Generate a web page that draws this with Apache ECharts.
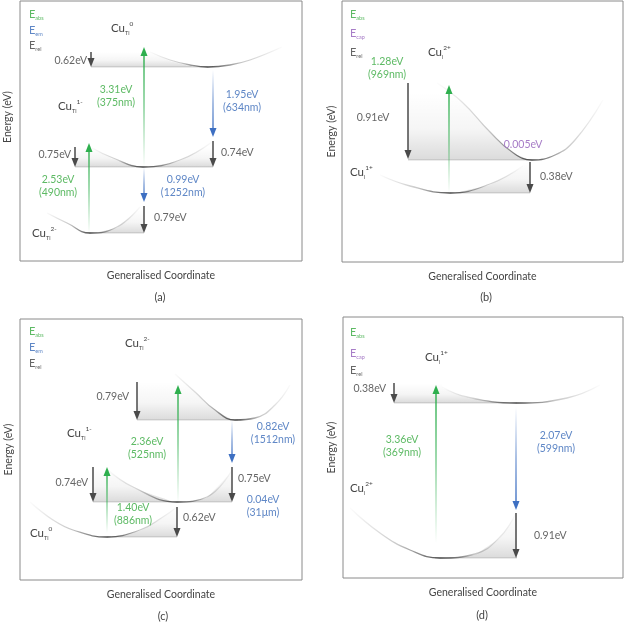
<!DOCTYPE html>
<html><head><meta charset="utf-8">
<script src="https://cdn.jsdelivr.net/npm/echarts@6/dist/echarts.min.js"></script>
<style>html,body{margin:0;padding:0;background:#fff}#c{width:625px;height:622px}</style>
</head><body><div id="c"></div>
<script>
// ---------- DATA (schematic units: x = generalised coordinate, y = energy) ----------
// Panel (a): Cu_Ti
const A_CURVE_0   = [[130,209],[150,201],[170,196],[188,194],[210,196],[230,201],[262,214]];
const A_CURVE_1M  = [[72,113],[93,103],[123,94],[160,101],[192,119]];
const A_CURVE_2M  = [[27,48],[47,38],[70,28],[97,34],[120,54]];
// bands: [x from, x to, level, shade top, index of curve that bounds it]
const A_BANDS     = [[71,188,194,209,0],[55,193,94,114,1],[69,124,28,52,2]];
const A_ABS       = [[124,94,214],[69,28,118]];
const A_EM        = [[193,191,124],[124,94,59]];
const A_REL       = [[71,209,194],[55,114,94],[193,120,94],[124,55,28]];
const A_TEXT      = [['3.31eV\n(375nm)',96,165,'abs','center'],['1.95eV\n(634nm)',222,160,'em','center'],
                     ['2.53eV\n(490nm)',38,75,'abs','center'],['0.99eV\n(1252nm)',163,75,'em','center'],
                     ['0.62eV',67,200,'rel','right'],['0.75eV',51,106,'rel','right'],
                     ['0.74eV',201,108,'rel','left'],['0.79eV',134,43,'rel','left']];
const A_STATES    = [[91,233,'Ti','0'],[38,155,'Ti','1-'],[12,28,'Ti','2-']];
const A_LEGEND    = [['abs',9,247],['em',9,231],['rel',9,216]];

// Panel (b): Cu_i
const B_CURVE_2P  = [[95,179],[120,160],[148,130],[170,110],[190,102],[213,107],[233,122],[261,162]];
const B_CURVE_1P  = [[38,87],[68,76],[108,69],[148,78],[181,96]];
const B_BANDS     = [[66,190,102,170,0],[108,188,69,100,1]];
const B_ABS       = [[107,69,177]];
const B_EM        = [];
const B_REL       = [[66,179,103],[188,100,69]];
const B_TEXT      = [['1.28eV\n(969nm)',45,194,'abs','center'],['0.91eV',31,144,'rel','center'],
                     ['0.005eV',181,117,'cap','center'],['0.38eV',198,85,'rel','left']];
const B_STATES    = [[86,210,'i','2+'],[8,90,'i','1+']];
const B_LEGEND    = [['abs',8,248],['cap',8,229],['rel',8,210]];

// Panel (c): Cu_Ti
const C_CURVE_2M  = [[155,206],[175,188],[195,170],[215,160],[235,162],[255,175],[270,195]];
const C_CURVE_1M  = [[88,110],[113,93],[157,78],[187,83],[212,110]];
const C_CURVE_0   = [[10,78],[33,60],[53,50],[87,43],[120,50],[143,63],[157,73]];
const C_BANDS     = [[117,218,160,198,0],[73,212,78,113,1],[87,157,43,73,2]];
const C_ABS       = [[158,77,195],[87,47,113]];
const C_EM        = [[212,160,117]];
const C_REL       = [[117,198,160],[73,113,78],[212,113,78],[157,73,43]];
const C_TEXT      = [['0.79eV',109,183,'rel','right'],['2.36eV\n(525nm)',127,132,'abs','center'],
                     ['0.82eV\n(1512nm)',253,147,'em','center'],['0.74eV',68,97,'rel','right'],
                     ['0.75eV',218,101,'rel','left'],['0.04eV\n(31μm)',243,74,'em','center'],
                     ['1.40eV\n(886nm)',113,66,'abs','center'],['0.62eV',163,62,'rel','left']];
const C_STATES    = [[105,237,'Ti','2-'],[47,147,'Ti','1-'],[10,47,'Ti','0']];
const C_LEGEND    = [['abs',9,249],['em',9,233],['rel',9,217]];

// Panel (d): Cu_i
const D_CURVE_1P  = [[99,191],[124,181],[174,175],[224,180],[257,193]];
const D_CURVE_2P  = [[7,70],[37,45],[67,28],[97,20],[132,24],[157,41],[173,65]];
const D_BANDS     = [[51,174,175,195,0],[92,174,20,65,1]];
const D_ABS       = [[93,35,193]];
const D_EM        = [[173,171,68]];
const D_REL       = [[51,195,175],[173,65,20]];
const D_TEXT      = [['0.38eV',43,189,'rel','right'],['3.36eV\n(369nm)',59,132,'abs','center'],
                     ['2.07eV\n(599nm)',213,136,'em','center'],['0.91eV',191,42,'rel','left']];
const D_STATES    = [[82,221,'i','1+'],[7,90,'i','2+']];
const D_LEGEND    = [['abs',7,246],['cap',7,225],['rel',7,208]];

const PANEL_TAGS  = ['(a)','(b)','(c)','(d)'];
const X_NAME = 'Generalised Coordinate';
const Y_NAME = 'Energy (eV)';

// ---------- STYLE ----------
const FONT = 'Lato, "Open Sans", sans-serif';
const TEXT_COLOR  = {abs:'#5dba64', em:'#5f87c6', cap:'#a77dc7', rel:'#666666'};
const ARROW_COLOR = {abs:[46,175,78], em:[61,111,194], rel:[74,74,74]};
const GRIDS = [
  {left:20,  top:1,   width:282, height:260, xMax:282, yMax:260, yGap:7, yShift:28, tag:[160,297]},
  {left:342, top:1,   width:281, height:261, xMax:281, yMax:261, yGap:5, yShift:0,  tag:[486,297]},
  {left:20,  top:319, width:282, height:261, xMax:282, yMax:261, yGap:6, yShift:0,  tag:[163,616]},
  {left:343, top:317, width:280, height:261, xMax:280, yMax:261, yGap:6, yShift:0,  tag:[482,615]}
];
const rgba = (c,a)=>`rgba(${c[0]},${c[1]},${c[2]},${a})`;

function curveSeries(gi, pts){
  let xmin=Infinity,xmax=-Infinity,vx=0,vy=Infinity;
  pts.forEach(p=>{xmin=Math.min(xmin,p[0]);xmax=Math.max(xmax,p[0]); if(p[1]<vy){vy=p[1];vx=p[0];}});
  const f=(vx-xmin)/(xmax-xmin);
  return {type:'line', xAxisIndex:gi, yAxisIndex:gi, data:pts, smooth:0.45, showSymbol:false, silent:true, z:2,
    lineStyle:{width:1.3, color:new echarts.graphic.LinearGradient(0,0,1,0,[
      {offset:0,color:'rgba(70,70,70,0)'},{offset:f*0.55,color:'rgba(70,70,70,0.3)'},
      {offset:f,color:'rgba(55,55,55,0.9)'},{offset:f+(1-f)*0.45,color:'rgba(70,70,70,0.3)'},
      {offset:1,color:'rgba(70,70,70,0)'}])}};
}
// shading below a curve, above its minimum level, fading upward
function bandSeries(gi, bands, curves){
  return {type:'custom', xAxisIndex:gi, yAxisIndex:gi, z:1, silent:true, data:bands.map(b=>b.slice(0,4)),
    renderItem(params, api){
      const b=bands[params.dataIndex], pts=curves[b[4]];
      const curveAt=(x)=>{
        if(x<pts[0][0]||x>pts[pts.length-1][0]) return Infinity;
        for(let i=0;i<pts.length-1;i++){const p=pts[i],q=pts[i+1];
          if(x>=p[0]&&x<=q[0]) return p[1]+(q[1]-p[1])*(x-p[0])/(q[0]-p[0]);}
        return Infinity;
      };
      const poly=[api.coord([b[0],b[2]]),api.coord([b[1],b[2]])];
      const n=60;
      for(let i=n;i>=0;i--){const x=b[0]+(b[1]-b[0])*i/n; const y=Math.max(b[2],Math.min(b[3],curveAt(x)-1)); poly.push(api.coord([x,y]));}
      const pl=api.coord([b[0],b[2]]), pt=api.coord([b[0],b[3]]), pr=api.coord([b[1],b[2]]);
      return {type:'group', children:[
        {type:'polygon', shape:{points:poly},
         style:{fill:new echarts.graphic.LinearGradient(0,pt[1],0,pl[1],[{offset:0,color:'rgba(0,0,0,0)'},{offset:0.55,color:'rgba(0,0,0,0.04)'},{offset:1,color:'rgba(0,0,0,0.14)'}],true)}},
        {type:'line', shape:{x1:pl[0],y1:pl[1],x2:pr[0],y2:pr[1]}, style:{stroke:'rgba(0,0,0,0.16)', lineWidth:1}}
      ]};
    }};
}
function arrowSeries(gi, arr, kind){
  const c=ARROW_COLOR[kind], fade=kind!=='rel';
  return {type:'custom', xAxisIndex:gi, yAxisIndex:gi, z:3, silent:true, data:arr,
    renderItem(params, api){
      const x=api.value(0);
      const s=api.coord([x,api.value(1)]), e=api.coord([x,api.value(2)]);
      const dir=e[1]>s[1]?1:-1, L=9, W=7;
      const stroke=fade? new echarts.graphic.LinearGradient(s[0],s[1],e[0],e[1],[
        {offset:0,color:rgba(c,0)},{offset:0.5,color:rgba(c,0.6)},{offset:1,color:rgba(c,1)}],true) : rgba(c,1);
      return {type:'group', children:[
        {type:'line', shape:{x1:s[0],y1:s[1],x2:e[0],y2:e[1]-dir*L*0.6}, style:{stroke:stroke, lineWidth:1.5}},
        {type:'polygon', shape:{points:[[e[0],e[1]],[e[0]-W/2,e[1]-dir*L],[e[0]+W/2,e[1]-dir*L]]}, style:{fill:rgba(c,1)}}
      ]};
    }};
}
function textSeries(gi, items){
  return {type:'custom', xAxisIndex:gi, yAxisIndex:gi, z:4, silent:true, data:items.map(t=>[t[1],t[2]]),
    renderItem(params, api){
      const t=items[params.dataIndex], p=api.coord([api.value(0),api.value(1)]);
      return {type:'text', x:p[0], y:p[1], style:{text:t[0], fill:TEXT_COLOR[t[3]], fontSize:10.5, fontFamily:FONT,
        align:t[4], verticalAlign:'middle', lineHeight:13}};
    }};
}
function stateSeries(gi, items){
  return {type:'custom', xAxisIndex:gi, yAxisIndex:gi, z:4, silent:true, data:items.map(t=>[t[0],t[1]]),
    renderItem(params, api){
      const t=items[params.dataIndex], p=api.coord([api.value(0),api.value(1)]);
      return {type:'text', x:p[0], y:p[1], style:{text:'{m|Cu}{s|'+t[2]+'}{p|'+t[3]+'}', align:'left', verticalAlign:'middle',
        rich:{m:{fontSize:11.5,fontFamily:FONT,fill:'#444',lineHeight:16,verticalAlign:'middle'},
              s:{fontSize:5.5,fontFamily:FONT,fill:'#444',lineHeight:6,verticalAlign:'bottom'},
              p:{fontSize:6.5,fontFamily:FONT,fill:'#444',lineHeight:7,verticalAlign:'top'}}}};
    }};
}
function legendSeries(gi, items){
  return {type:'custom', xAxisIndex:gi, yAxisIndex:gi, z:4, silent:true, data:items.map(t=>[t[1],t[2]]),
    renderItem(params, api){
      const t=items[params.dataIndex], p=api.coord([api.value(0),api.value(1)]), col=TEXT_COLOR[t[0]];
      return {type:'text', x:p[0], y:p[1], style:{text:'{e|E}{s|'+t[0]+'}', align:'left', verticalAlign:'middle',
        rich:{e:{fontSize:11,fontFamily:FONT,fill:col,lineHeight:14,verticalAlign:'middle'},
              s:{fontSize:5.5,fontFamily:FONT,fill:col,lineHeight:6,verticalAlign:'bottom'}}}};
    }};
}

const panels = [
  {curves:[A_CURVE_0,A_CURVE_1M,A_CURVE_2M], bands:A_BANDS, abs:A_ABS, em:A_EM, rel:A_REL, text:A_TEXT, states:A_STATES, legend:A_LEGEND},
  {curves:[B_CURVE_2P,B_CURVE_1P], bands:B_BANDS, abs:B_ABS, em:B_EM, rel:B_REL, text:B_TEXT, states:B_STATES, legend:B_LEGEND},
  {curves:[C_CURVE_2M,C_CURVE_1M,C_CURVE_0], bands:C_BANDS, abs:C_ABS, em:C_EM, rel:C_REL, text:C_TEXT, states:C_STATES, legend:C_LEGEND},
  {curves:[D_CURVE_1P,D_CURVE_2P], bands:D_BANDS, abs:D_ABS, em:D_EM, rel:D_REL, text:D_TEXT, states:D_STATES, legend:D_LEGEND}
];

const series=[];
panels.forEach((pn,gi)=>{
  series.push(bandSeries(gi,pn.bands,pn.curves));
  pn.curves.forEach(c=>series.push(curveSeries(gi,c)));
  series.push(arrowSeries(gi,pn.abs,'abs'));
  series.push(arrowSeries(gi,pn.em,'em'));
  series.push(arrowSeries(gi,pn.rel,'rel'));
  series.push(textSeries(gi,pn.text));
  series.push(stateSeries(gi,pn.states));
  series.push(legendSeries(gi,pn.legend));
});

const nameStyle={fontSize:10.5, fontFamily:FONT, color:'#444'};
const hidden={axisLine:{show:false}, axisTick:{show:false}, axisLabel:{show:false}, splitLine:{show:false}};
const option={
  backgroundColor:'#fff', animation:false,
  grid:GRIDS.map(g=>({left:g.left, top:g.top, width:g.width, height:g.height, show:true, borderColor:'#8a8a8a', borderWidth:1, backgroundColor:'#fff'})),
  xAxis:GRIDS.map((g,i)=>Object.assign({type:'value', gridIndex:i, min:0, max:g.xMax, name:X_NAME, nameLocation:'middle', nameGap:9, nameTextStyle:nameStyle}, hidden)),
  yAxis:GRIDS.map((g,i)=>Object.assign({type:'value', gridIndex:i, min:0, max:g.yMax, name:Y_NAME, nameLocation:'middle', nameGap:g.yGap,
    nameTextStyle:Object.assign({padding:[0,0,0,g.yShift]}, nameStyle)}, hidden)),
  graphic:GRIDS.map((g,i)=>({type:'text', x:g.tag[0], y:g.tag[1], style:{text:PANEL_TAGS[i], fontSize:11, fontFamily:FONT, fill:'#444', align:'center', verticalAlign:'middle'}})),
  series:series
};
const chart=echarts.init(document.getElementById('c'),null,{renderer:'canvas'});
chart.setOption(option);
</script></body></html>
